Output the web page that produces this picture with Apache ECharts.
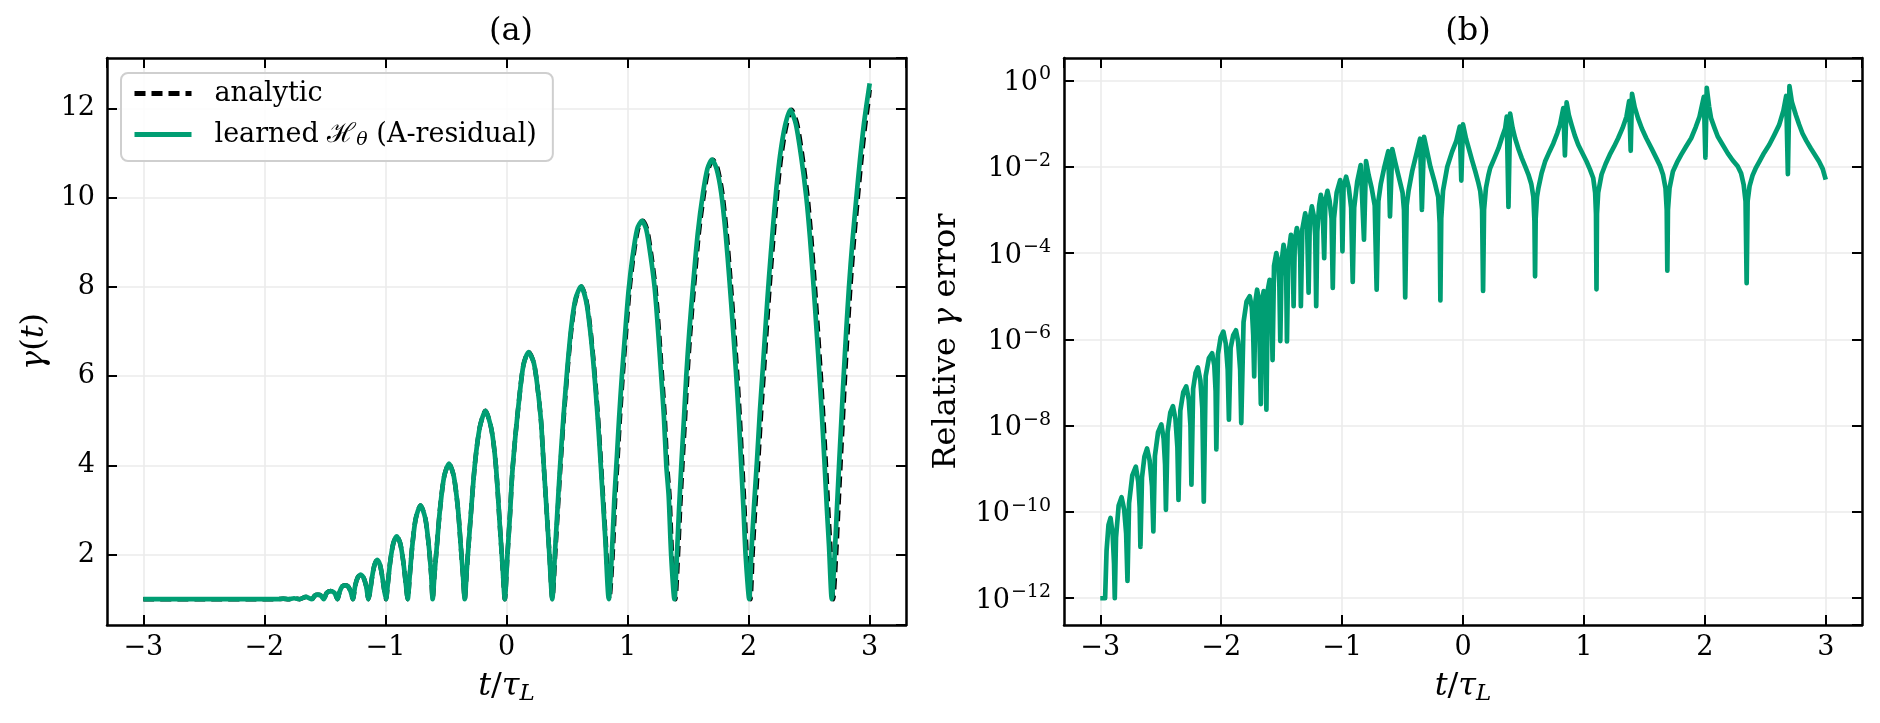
<!DOCTYPE html>
<html>
	<head>
		<meta charset="utf-8">
		<title>gamma</title>
		<script src="https://cdn.jsdelivr.net/npm/echarts@6/dist/echarts.min.js"></script>
		<style>
			html, body { margin: 0; padding: 0; background: #fff; }
		</style>
	</head>
	<body>
		<div id="main" style="width: 1880px;height:723px;"></div>
		<script>
		/* (a) learned gamma(t), [t/tau_L, gamma] */
		var learnedCurve = [
			[-3.0,1],[-2.5,1],[-2.0,1],[-1.89,1.0],[-1.845,1.01],[-1.80,1.0],[-1.755,1.02],[-1.709,1.0],
			[-1.658,1.05],[-1.607,1.0],[-1.583,1.08],[-1.558,1.10],[-1.534,1.08],[-1.51,1.0],
			[-1.485,1.14],[-1.453,1.18],[-1.421,1.14],[-1.396,1.0],
			[-1.378,1.17],[-1.355,1.29],[-1.332,1.31],[-1.31,1.29],[-1.287,1.17],[-1.269,1.0],
			[-1.25,1.3],[-1.228,1.49],[-1.205,1.55],[-1.182,1.49],[-1.16,1.3],[-1.14,1.0],
			[-1.127,1.17],[-1.11,1.5],[-1.09,1.77],[-1.068,1.88],[-1.045,1.77],[-1.026,1.5],[-1.008,1.17],[-0.995,1.0],
			[-0.982,1.3],[-0.96,1.85],[-0.935,2.25],[-0.907,2.41],[-0.878,2.25],[-0.853,1.85],[-0.83,1.3],[-0.816,1.0],
			[-0.80,1.5],[-0.778,2.2],[-0.75,2.8],[-0.71,3.10],[-0.67,2.8],[-0.642,2.2],[-0.622,1.55],[-0.61,1.0],
			[-0.595,1.55],[-0.575,2.2],[-0.55,3.0],[-0.515,3.75],[-0.475,4.04],[-0.435,3.75],[-0.40,3.0],[-0.378,2.2],[-0.36,1.55],[-0.345,1.0],
			[-0.327,1.7],[-0.30,2.7],[-0.262,4.0],[-0.221,4.85],[-0.174,5.22],[-0.124,4.8],[-0.088,4.0],[-0.055,2.65],[-0.033,1.75],[-0.014,1.0],
			[0.008,2.0],[0.03,2.95],[0.047,3.8],[0.075,4.7],[0.105,5.5],[0.14,6.25],[0.182,6.54],[0.225,6.3],[0.254,5.8],[0.285,5.0],[0.304,4.15],[0.33,3.05],[0.354,2.0],[0.378,1.0],
			[0.40,2.03],[0.42,2.96],[0.443,4.0],[0.47,5.07],[0.5,6.1],[0.535,7.1],[0.57,7.73],[0.616,8.01],[0.66,7.65],[0.695,6.93],[0.73,5.9],[0.76,4.8],[0.79,3.5],[0.815,2.4],[0.845,1.0],
			[0.87,2.0],[0.89,3.2],[0.912,4.2],[0.93,5.05],[0.953,6.0],[0.98,6.96],[1.008,7.9],[1.04,8.65],[1.08,9.3],[1.119,9.48],[1.155,9.28],[1.19,8.7],[1.223,8.0],[1.25,7.1],[1.278,6.0],[1.30,5.1],[1.32,4.0],[1.34,3.3],[1.36,2.0],[1.387,1.0],
			[1.408,2.0],[1.425,3.0],[1.444,4.0],[1.465,5.0],[1.485,6.0],[1.51,7.0],[1.54,8.0],[1.58,9.2],[1.623,10.1],[1.66,10.65],[1.697,10.85],[1.735,10.65],[1.774,10.1],[1.81,9.2],[1.843,8.1],[1.87,7.1],[1.898,6.0],[1.92,5.0],[1.939,4.0],[1.958,3.0],[1.975,2.0],[2.005,1.0],
			[2.022,2.0],[2.045,3.1],[2.069,4.1],[2.093,5.2],[2.118,6.2],[2.142,7.2],[2.168,8.2],[2.2,9.3],[2.229,10.2],[2.26,10.95],[2.3,11.6],[2.344,11.97],[2.39,11.65],[2.435,10.9],[2.477,10.0],[2.507,9.1],[2.537,8.0],[2.562,7.0],[2.587,5.95],[2.608,5.0],[2.628,4.0],[2.647,3.0],[2.664,2.2],[2.687,1.0],
			[2.711,2.0],[2.729,3.0],[2.747,4.0],[2.766,5.0],[2.785,6.0],[2.806,7.0],[2.829,8.0],[2.857,9.0],[2.89,10.0],[2.92,10.85],[2.95,11.6],[2.975,12.1],[3.0,12.56]
		];
		/* (a) analytic gamma(t), dashed */
		var analyticCurve = [
			[-3.0,1],[-2.5,1],[-2.0,1],[-1.89,1.0],[-1.845,1.01],[-1.80,1.0],[-1.755,1.02],[-1.709,1.0],
			[-1.658,1.05],[-1.607,1.0],[-1.583,1.08],[-1.558,1.10],[-1.534,1.08],[-1.51,1.0],
			[-1.485,1.14],[-1.453,1.18],[-1.421,1.14],[-1.396,1.0],
			[-1.378,1.17],[-1.355,1.29],[-1.332,1.31],[-1.31,1.29],[-1.287,1.17],[-1.269,1.0],
			[-1.25,1.3],[-1.228,1.49],[-1.205,1.55],[-1.182,1.49],[-1.16,1.3],[-1.14,1.0],
			[-1.127,1.17],[-1.11,1.5],[-1.09,1.77],[-1.068,1.88],[-1.045,1.77],[-1.026,1.5],[-1.008,1.17],[-0.995,1.0],
			[-0.982,1.3],[-0.96,1.85],[-0.935,2.25],[-0.907,2.41],[-0.878,2.25],[-0.853,1.85],[-0.83,1.3],[-0.816,1.0],
			[-0.80,1.5],[-0.778,2.2],[-0.75,2.8],[-0.71,3.10],[-0.67,2.8],[-0.642,2.2],[-0.622,1.55],[-0.61,1.0],
			[-0.595,1.55],[-0.575,2.2],[-0.55,3.0],[-0.515,3.75],[-0.475,4.04],[-0.435,3.75],[-0.40,3.0],[-0.378,2.2],[-0.36,1.55],[-0.345,1.0],
			[-0.327,1.7],[-0.30,2.7],[-0.262,4.0],[-0.221,4.85],[-0.174,5.22],[-0.124,4.8],[-0.088,4.0],[-0.055,2.65],[-0.033,1.75],[-0.014,1.0],
			[0.008,2.0],[0.03,2.95],[0.047,3.8],[0.075,4.7],[0.105,5.5],[0.14,6.25],[0.182,6.54],[0.225,6.3],[0.254,5.8],[0.285,5.0],[0.304,4.15],[0.33,3.05],[0.355,2.0],[0.379,1.0],
			[0.403,2.03],[0.423,2.96],[0.446,4.0],[0.473,5.07],[0.503,6.1],[0.538,7.1],[0.573,7.73],[0.619,8.01],[0.663,7.65],[0.698,6.93],[0.733,5.9],[0.763,4.8],[0.793,3.5],[0.818,2.4],[0.85,1.0],
			[0.877,2.0],[0.897,3.2],[0.919,4.2],[0.937,5.05],[0.96,6.0],[0.987,6.96],[1.015,7.9],[1.047,8.65],[1.087,9.3],[1.126,9.48],[1.162,9.28],[1.197,8.7],[1.23,8.0],[1.257,7.1],[1.285,6.0],[1.307,5.1],[1.327,4.0],[1.347,3.3],[1.367,2.0],[1.395,1.0],
			[1.417,2.0],[1.434,3.0],[1.453,4.0],[1.474,5.0],[1.494,6.0],[1.519,7.0],[1.549,8.0],[1.589,9.2],[1.632,10.1],[1.669,10.65],[1.706,10.85],[1.744,10.65],[1.783,10.1],[1.819,9.2],[1.852,8.1],[1.879,7.1],[1.907,6.0],[1.929,5.0],[1.948,4.0],[1.967,3.0],[1.984,2.0],[2.015,1.0],
			[2.033,2.0],[2.056,3.1],[2.08,4.1],[2.104,5.2],[2.129,6.2],[2.153,7.2],[2.179,8.2],[2.211,9.3],[2.24,10.2],[2.271,10.95],[2.311,11.6],[2.355,11.97],[2.401,11.65],[2.446,10.9],[2.488,10.0],[2.518,9.1],[2.548,8.0],[2.573,7.0],[2.598,5.95],[2.619,5.0],[2.639,4.0],[2.658,3.0],[2.675,2.2],[2.699,1.0],
			[2.723,2.0],[2.741,3.0],[2.759,4.0],[2.778,5.0],[2.797,6.0],[2.818,7.0],[2.841,8.0],[2.869,9.0],[2.902,10.0],[2.932,10.85],[2.962,11.6],[2.987,12.1],[3.0,12.42]
		];
		/* (b) relative gamma error, [t/tau_L, log10(error)] */
		var errLog10 = [
			[-3.0,-12],[-2.96,-12],[-2.948,-10.9],[-2.932,-10.3],[-2.915,-10.14],[-2.898,-10.5],[-2.886,-11.2],[-2.88,-12],
			[-2.87,-10.6],[-2.848,-9.85],[-2.824,-9.66],[-2.802,-9.95],[-2.786,-10.5],[-2.775,-11.6],
			[-2.762,-9.8],[-2.735,-9.15],[-2.706,-8.95],[-2.686,-9.3],[-2.674,-9.9],[-2.668,-10.81],
			[-2.655,-9.2],[-2.635,-8.72],[-2.613,-8.53],[-2.592,-8.8],[-2.572,-9.4],[-2.561,-10.45],
			[-2.548,-8.7],[-2.522,-8.15],[-2.495,-7.97],[-2.476,-8.3],[-2.464,-8.9],[-2.457,-9.95],
			[-2.443,-8.15],[-2.421,-7.7],[-2.399,-7.55],[-2.378,-7.85],[-2.362,-8.5],[-2.353,-9.72],
			[-2.338,-7.65],[-2.313,-7.22],[-2.289,-7.09],[-2.268,-7.4],[-2.254,-8.0],[-2.246,-9.37],
			[-2.232,-7.15],[-2.212,-6.78],[-2.193,-6.65],[-2.172,-6.95],[-2.156,-7.6],[-2.144,-9.76],
			[-2.128,-6.85],[-2.102,-6.44],[-2.075,-6.32],[-2.057,-6.6],[-2.046,-7.2],[-2.04,-8.55],
			[-2.027,-6.35],[-2.004,-5.95],[-1.982,-5.82],[-1.962,-6.1],[-1.946,-6.7],[-1.936,-7.86],
			[-1.922,-6.2],[-1.9,-5.9],[-1.878,-5.79],[-1.86,-6.05],[-1.843,-6.7],[-1.834,-7.94],
			[-1.815,-5.6],[-1.79,-5.12],[-1.764,-5.0],[-1.747,-5.25],[-1.735,-5.9],[-1.727,-6.86],
			[-1.716,-5.1],[-1.703,-4.85],[-1.69,-5.05],[-1.672,-7.5],
			[-1.662,-5.1],[-1.648,-4.88],[-1.638,-5.15],[-1.626,-7.63],
			[-1.614,-4.85],[-1.599,-4.62],[-1.586,-4.9],[-1.575,-6.48],
			[-1.563,-4.3],[-1.544,-4.0],[-1.529,-4.2],[-1.519,-4.7],[-1.511,-6.04],
			[-1.5,-4.2],[-1.484,-3.81],[-1.47,-4.05],[-1.462,-4.55],[-1.456,-6.05],
			[-1.445,-4.05],[-1.423,-3.58],[-1.41,-3.8],[-1.401,-5.23],
			[-1.391,-3.7],[-1.374,-3.42],[-1.356,-3.65],[-1.346,-4.1],[-1.341,-5.23],
			[-1.329,-3.45],[-1.305,-3.08],[-1.29,-3.3],[-1.277,-4.92],
			[-1.267,-3.2],[-1.25,-2.92],[-1.233,-3.15],[-1.222,-3.6],[-1.214,-5.23],
			[-1.205,-3.5],[-1.19,-2.9],[-1.176,-2.65],[-1.162,-2.88],[-1.148,-4.12],
			[-1.138,-2.78],[-1.121,-2.56],[-1.104,-2.78],[-1.087,-3.2],[-1.077,-4.81],
			[-1.067,-3.2],[-1.045,-2.6],[-1.016,-2.31],[-1.005,-2.6],[-0.997,-3.96],
			[-0.988,-2.48],[-0.967,-2.23],[-0.945,-2.48],[-0.925,-2.95],[-0.912,-4.67],
			[-0.9,-2.95],[-0.875,-2.35],[-0.846,-1.96],[-0.819,-3.69],[-0.802,-1.87],
			[-0.78,-2.2],[-0.755,-2.5],[-0.73,-2.9],[-0.714,-4.85],
			[-0.7,-2.8],[-0.68,-2.4],[-0.65,-2.0],[-0.618,-1.64],[-0.604,-3.15],[-0.585,-1.59],
			[-0.56,-1.9],[-0.53,-2.25],[-0.5,-2.6],[-0.488,-3.0],[-0.478,-5.03],
			[-0.466,-2.9],[-0.45,-2.55],[-0.42,-2.1],[-0.385,-1.7],[-0.355,-1.35],[-0.34,-3.0],[-0.322,-1.31],
			[-0.3,-1.6],[-0.27,-2.0],[-0.235,-2.35],[-0.205,-2.7],[-0.193,-3.3],[-0.187,-5.1],
			[-0.18,-3.2],[-0.165,-2.55],[-0.13,-2.0],[-0.09,-1.65],[-0.055,-1.4],[-0.027,-1.07],[-0.014,-2.32],[0.0,-1.02],
			[0.025,-1.35],[0.047,-1.57],[0.075,-1.85],[0.102,-2.11],[0.125,-2.35],[0.143,-2.57],[0.158,-3.0],[0.166,-4.88],
			[0.174,-3.0],[0.19,-2.49],[0.21,-2.2],[0.225,-2.03],[0.26,-1.8],[0.294,-1.57],[0.325,-1.3],[0.349,-1.11],[0.362,-0.84],[0.376,-2.93],[0.39,-0.77],
			[0.41,-1.1],[0.431,-1.34],[0.46,-1.6],[0.486,-1.80],[0.515,-2.0],[0.541,-2.18],[0.565,-2.4],[0.582,-2.7],[0.591,-3.26],[0.596,-4.54],
			[0.601,-3.2],[0.612,-2.7],[0.624,-2.49],[0.65,-2.15],[0.679,-1.88],[0.715,-1.65],[0.747,-1.46],[0.78,-1.22],[0.802,-1.03],[0.83,-0.64],[0.843,-1.74],[0.857,-0.51],
			[0.875,-0.8],[0.898,-1.03],[0.925,-1.28],[0.953,-1.49],[0.99,-1.7],[1.022,-1.88],[1.05,-2.06],[1.077,-2.26],[1.093,-2.6],[1.1,-3.1],[1.104,-4.84],
			[1.108,-3.1],[1.118,-2.6],[1.146,-2.18],[1.18,-1.93],[1.214,-1.72],[1.25,-1.53],[1.283,-1.34],[1.32,-1.1],[1.352,-0.84],[1.374,-0.48],[1.387,-1.63],[1.398,-0.31],
			[1.42,-0.62],[1.448,-0.88],[1.48,-1.12],[1.516,-1.34],[1.56,-1.58],[1.599,-1.80],[1.63,-1.98],[1.654,-2.18],[1.675,-2.5],[1.685,-3.0],[1.69,-4.41],
			[1.695,-3.0],[1.708,-2.5],[1.736,-2.11],[1.77,-1.9],[1.805,-1.72],[1.845,-1.53],[1.887,-1.34],[1.925,-1.08],[1.956,-0.84],[1.992,-0.38],[2.005,-1.79],[2.016,-0.17],
			[2.035,-0.6],[2.052,-0.88],[2.08,-1.1],[2.107,-1.30],[2.15,-1.5],[2.19,-1.69],[2.23,-1.85],[2.272,-1.99],[2.3,-2.15],[2.321,-2.41],[2.337,-2.8],[2.346,-4.70],
			[2.354,-2.8],[2.37,-2.45],[2.395,-2.2],[2.42,-2.04],[2.451,-1.88],[2.49,-1.68],[2.533,-1.49],[2.575,-1.26],[2.615,-1.03],[2.65,-0.7],[2.673,-0.36],[2.687,-2.17],[2.70,-0.13],
			[2.72,-0.5],[2.753,-0.80],[2.78,-1.02],[2.808,-1.23],[2.84,-1.4],[2.876,-1.57],[2.91,-1.72],[2.945,-1.88],[2.975,-2.05],[3.0,-2.30]
		];
		var xRange = [-3.3, 3.3];
		var gammaRange = [0.42, 13.13];
		var errRange = [-12.62, 0.52];
		var titles = ['(a)', '(b)'];

		var font = 'DejaVu Serif';
		var green = '#009E73';
		var dash = [11, 6];
		var spine = { show: true, onZero: false, lineStyle: { color: '#000', width: 2.5 } };
		var tickIn = { show: true, inside: true, length: 10, lineStyle: { color: '#000', width: 2 } };
		var grid = { show: true, lineStyle: { color: '#ebebeb', width: 1.6 } };
		var lbl = { fontFamily: font, fontSize: 27, color: '#000' };

		function minus(v) {
			return v < 0 ? '\u2212' + (-v) : String(v);
		}

		function xAx(g, pos, main) {
			return {
				type: 'value', gridIndex: g, position: pos,
				min: xRange[0], max: xRange[1], splitNumber: 6,
				axisLine: spine, axisTick: tickIn,
				axisLabel: main ? Object.assign({ show: true, margin: 9, showMinLabel: false, showMaxLabel: false, formatter: minus }, lbl) : { show: false },
				splitLine: main ? grid : { show: false },
				name: main ? '{i|t}{n|/}{i|\u03c4}{sub|L}' : '',
				nameLocation: 'middle', nameGap: 44,
				nameTextStyle: {
					rich: {
						i: { fontFamily: font, fontSize: 32, fontStyle: 'italic', lineHeight: 36, color: '#000' },
						n: { fontFamily: font, fontSize: 32, lineHeight: 36, color: '#000' },
						sub: { fontFamily: font, fontSize: 23, fontStyle: 'italic', lineHeight: 23, padding: [14, 0, 0, 0], color: '#000' }
					}
				}
			};
		}

		var yA = function (pos, main) {
			return {
				type: 'value', gridIndex: 0, position: pos,
				min: gammaRange[0], max: gammaRange[1], splitNumber: 6,
				axisLine: spine, axisTick: tickIn,
				axisLabel: main ? Object.assign({ show: true, margin: 12, showMinLabel: false, showMaxLabel: false }, lbl) : { show: false },
				splitLine: main ? grid : { show: false },
				name: main ? '{i|\u03b3}{n|(}{i|t}{n|)}' : '',
				nameLocation: 'middle', nameRotate: 90, nameGap: 54,
				nameTextStyle: {
					rich: {
						i: { fontFamily: font, fontSize: 32, fontStyle: 'italic', lineHeight: 36, color: '#000' },
						n: { fontFamily: font, fontSize: 32, lineHeight: 36, color: '#000' }
					}
				}
			};
		};

		var yB = function (pos, main) {
			return {
				type: 'value', gridIndex: 1, position: pos,
				min: errRange[0], max: errRange[1], splitNumber: 6,
				axisLine: spine, axisTick: tickIn,
				axisLabel: main ? {
					show: true, margin: 13, showMinLabel: false, showMaxLabel: false,
					formatter: function (v) {
						return '{b|10}{s|' + minus(Math.round(v)) + '}';
					},
					rich: {
						b: { fontFamily: font, fontSize: 27, lineHeight: 30, padding: [5, 0, 0, 0], color: '#000', verticalAlign: 'middle' },
						s: { fontFamily: font, fontSize: 19, lineHeight: 19, padding: [0, 0, 12, 1], color: '#000', verticalAlign: 'middle' }
					}
				} : { show: false },
				splitLine: main ? grid : { show: false },
				name: main ? '{n|Relative }{i|\u03b3}{n| error}' : '',
				nameLocation: 'middle', nameRotate: 90, nameGap: 99,
				nameTextStyle: {
					rich: {
						i: { fontFamily: font, fontSize: 32, fontStyle: 'italic', lineHeight: 36, color: '#000' },
						n: { fontFamily: font, fontSize: 32, lineHeight: 36, color: '#000' }
					}
				}
			};
		};

		var chart = echarts.init(document.getElementById('main'));
		var option = {
			animation: false,
			backgroundColor: '#fff',
			title: [
				{ text: titles[0], left: 506, top: 11, textAlign: 'center', textStyle: { fontFamily: font, fontSize: 32, fontWeight: 'normal', color: '#000' } },
				{ text: titles[1], left: 1463, top: 11, textAlign: 'center', textStyle: { fontFamily: font, fontSize: 32, fontWeight: 'normal', color: '#000' } }
			],
			grid: [
				{ left: 107, top: 58, width: 799, height: 567, outerBoundsMode: 'none' },
				{ left: 1064, top: 58, width: 798, height: 567, outerBoundsMode: 'none' }
			],
			legend: {
				orient: 'vertical', left: 121, top: 73,
				itemWidth: 57, itemHeight: 20, itemGap: 12,
				padding: [7, 16, 11, 11],
				backgroundColor: 'rgba(255,255,255,0.85)',
				borderColor: '#cfcfcf', borderWidth: 2, borderRadius: 7,
				itemStyle: { opacity: 0 },
				data: [
					{ name: 'analytic', lineStyle: { color: '#000', width: 5, type: dash } },
					{ name: 'learned', lineStyle: { color: green, width: 5, type: 'solid' } }
				],
				formatter: function (name) {
					if (name === 'analytic') return '{p|analytic}';
					return '{p|learned }{h|\u210b}{sub|\u03b8}{r| (A-residual)}';
				},
				textStyle: {
					fontFamily: font, fontSize: 27, color: '#000',
					rich: {
						p: { fontFamily: font, fontSize: 27, lineHeight: 32, padding: [0, 0, 0, 18], color: '#000' },
						h: { fontFamily: font, fontSize: 27, lineHeight: 32, color: '#000' },
						sub: { fontFamily: font, fontSize: 19, fontStyle: 'italic', lineHeight: 19, padding: [12, 0, 0, 0], color: '#000' },
						r: { fontFamily: font, fontSize: 27, lineHeight: 32, color: '#000' }
					}
				}
			},
			xAxis: [xAx(0, 'bottom', true), xAx(0, 'top', false), xAx(1, 'bottom', true), xAx(1, 'top', false)],
			yAxis: [yA('left', true), yA('right', false), yB('left', true), yB('right', false)],
			series: [
				{
					name: 'analytic', type: 'line', xAxisIndex: 0, yAxisIndex: 0,
					data: analyticCurve, symbol: 'none', smooth: 0.25,
					lineStyle: { color: '#000', width: 4.5, type: dash },
					itemStyle: { color: '#000' }
				},
				{
					name: 'learned', type: 'line', xAxisIndex: 0, yAxisIndex: 0,
					data: learnedCurve, symbol: 'none', smooth: 0.25,
					lineStyle: { color: green, width: 4.7 },
					itemStyle: { color: green }
				},
				{
					name: 'error', type: 'line', xAxisIndex: 2, yAxisIndex: 2,
					data: errLog10, symbol: 'none',
					lineStyle: { color: green, width: 4.7, join: 'round' },
					itemStyle: { color: green }
				}
			]
		};
		chart.setOption(option);
		</script>
	</body>
</html>
